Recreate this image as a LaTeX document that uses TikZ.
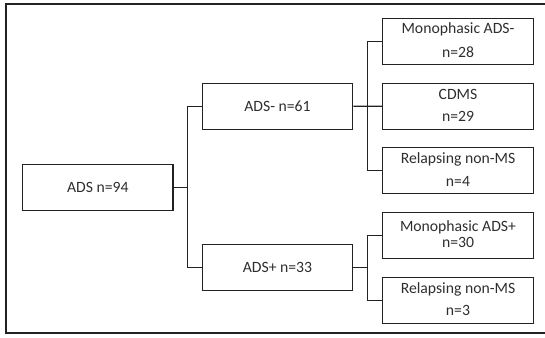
\documentclass[tikz,border=0pt]{standalone}
\usepackage{fontspec}
\setmainfont{Carlito}
\usetikzlibrary{calc}
\definecolor{ink}{HTML}{222222}
\definecolor{txt}{HTML}{2E2E2E}
\begin{document}
\begin{tikzpicture}[x=1pt,y=-1pt,
  box/.style={draw=ink,line width=1.3pt,minimum width=150.5pt,minimum height=46pt,inner sep=0pt,
    text=txt,font=\fontsize{15.7}{19}\selectfont},
  lbl/.style={anchor=base,inner sep=0pt,text=txt,font=\fontsize{15.7}{19}\selectfont},
  conn/.style={draw=ink,line width=1.3pt}]
\useasboundingbox (0,0) rectangle (545,337);
% frame (right side is cut off in the reference)
\draw[ink,line width=1.2pt] (547,4) -- (6,4) -- (6,333) -- (547,333);
% boxes
\node[box] (ads) at (97.85,187.2) {ADS n=94};
\node[box] (adsm) at (277.5,106.3) {ADS- n=61};
\node[box] (adsp) at (277.5,267.7) {ADS+ n=33};
\node[box] (m1) at (458,41.2) {};
\node[box] (cdms) at (458,106.2) {};
\node[box] (r1) at (458,170.8) {};
\node[box] (m2) at (458,235.5) {};
\node[box] (r2) at (458,300.7) {};
% box texts
\node[lbl] (m1a) at (458,34) {Monophasic ADS-};
\node[lbl] (m1b) at (458,57.3) {n=28};
\node[lbl] (cda) at (458,99.3) {CDMS};
\node[lbl] (cdb) at (458,121) {n=29};
\node[lbl] (r1a) at (458,163.3) {Relapsing non-MS};
\node[lbl] (r1b) at (458,186.7) {n=4};
\node[lbl] (m2a) at (458,231) {Monophasic ADS+};
\node[lbl] (m2b) at (458,247.7) {n=30};
\node[lbl] (r2a) at (458,293.3) {Relapsing non-MS};
\node[lbl] (r2b) at (458,315.7) {n=3};
% connectors
\coordinate (j1) at (187.7,187.2);
\coordinate (j2) at (367.3,106.3);
\coordinate (j3) at (367.3,267.7);
\draw[conn] (ads.east) -- (j1);
\draw[conn] (adsm.west) -| (j1) |- (adsp.west);
\draw[conn] (adsm.east) -- (cdms.west);
\draw[conn] (m1.west) -| (j2) |- (r1.west);
\draw[conn] (adsp.east) -- (j3);
\draw[conn] (m2.west) -| (j3) |- (r2.west);
\end{tikzpicture}
\end{document}
